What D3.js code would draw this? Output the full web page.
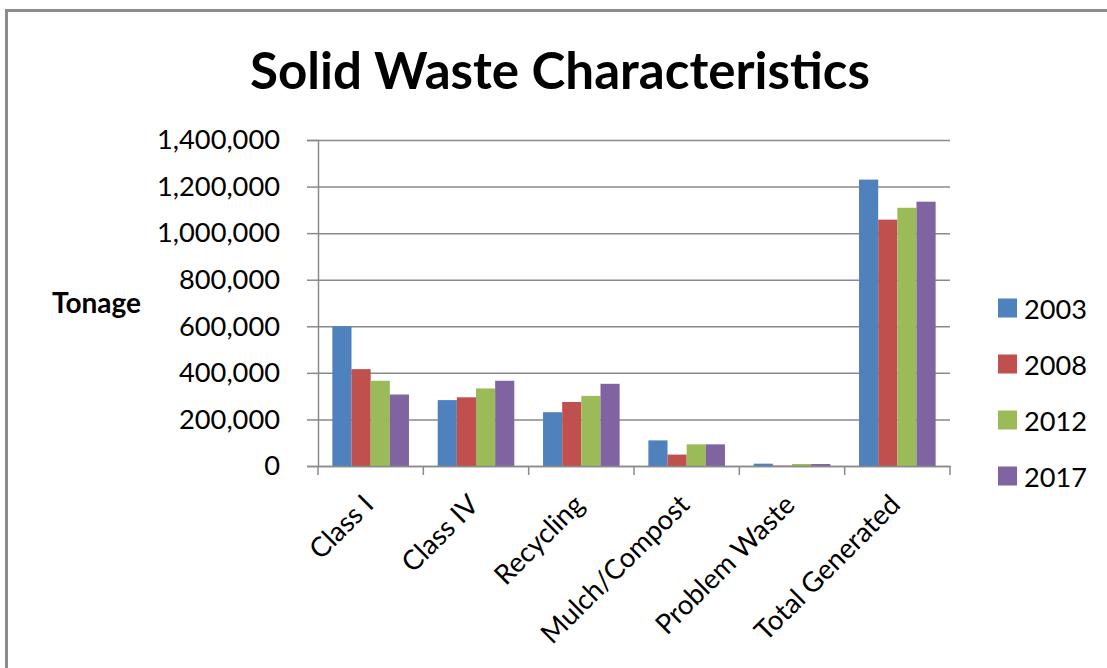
<!DOCTYPE html>
<html>
<head>
<meta charset="utf-8">
<script src="https://cdn.jsdelivr.net/npm/d3@7"></script>
<style>
  html, body { margin: 0; padding: 0; background: #fff; }
  svg { display: block; }
  text { font-family: Lato, "Open Sans", sans-serif; fill: #000; }
</style>
</head>
<body>
<svg id="chart" width="1107" height="668"></svg>
<script>
// ---- data ----
const categories = ["Class I", "Class IV", "Recycling", "Mulch/Compost", "Problem Waste", "Total Generated"];
const seriesNames = ["2003", "2008", "2012", "2017"];
const values2003 = [600000, 283000, 231000, 110000, 10000, 1230000];
const values2008 = [416000, 295000, 275000, 49000, 1500, 1058000];
const values2012 = [366000, 333000, 301000, 93000, 8500, 1109000];
const values2017 = [307000, 366000, 353000, 93000, 8500, 1135000];
const yTickValues = [0, 200000, 400000, 600000, 800000, 1000000, 1200000, 1400000];
const seriesColors = ["#4F81BD", "#C0504D", "#9BBB59", "#8064A2"];
const titleText = "Solid Waste Characteristics";
const yAxisTitle = "Tonage";

const seriesValues = [values2003, values2008, values2012, values2017];
const rows = categories.map((c, i) => ({
  category: c,
  values: seriesNames.map((s, j) => ({ series: s, value: seriesValues[j][i] }))
}));

const svg = d3.select("#chart");
const W = 1107, H = 668;
const plot = { left: 318, right: 950, top: 140, bottom: 466 };
const gridColor = "#8a8a8a";

// frame (top and left edges visible)
svg.append("line").attr("x1", 6.5).attr("x2", W).attr("y1", 10.5).attr("y2", 10.5)
  .attr("stroke", "#8c8c8c").attr("stroke-width", 3);
svg.append("line").attr("x1", 6.5).attr("x2", 6.5).attr("y1", 9).attr("y2", H)
  .attr("stroke", "#8c8c8c").attr("stroke-width", 3);

function fitText(sel, targetWidth) {
  sel.style("font-size", "100px");
  const len = sel.node().getComputedTextLength();
  sel.style("font-size", (100 * targetWidth / len) + "px");
}

// scales
const x = d3.scaleBand().domain(categories).range([plot.left, plot.right]).paddingInner(0).paddingOuter(0);
const barW = x.bandwidth() / 5.5;
const xs = d3.scaleBand().domain(seriesNames).range([0.75 * barW, 0.75 * barW + 4 * barW]).padding(0);
const y = d3.scaleLinear().domain([0, 1400000]).range([plot.bottom, plot.top]);

// gridlines
svg.append("g")
  .attr("transform", `translate(${plot.left},0)`)
  .call(d3.axisLeft(y).tickValues(yTickValues).tickSize(-(plot.right - plot.left)).tickFormat(""))
  .call(g => g.select(".domain").remove())
  .call(g => g.selectAll("line").attr("stroke", gridColor).attr("stroke-width", 1.5));

// bars
const groups = svg.append("g").selectAll("g").data(rows).join("g")
  .attr("transform", d => `translate(${x(d.category)},0)`);
groups.selectAll("rect").data(d => d.values).join("rect")
  .attr("x", d => xs(d.series))
  .attr("width", xs.bandwidth())
  .attr("y", d => y(d.value))
  .attr("height", d => y(0) - y(d.value))
  .attr("fill", (d, i) => seriesColors[i]);

// y axis
const yAxisG = svg.append("g")
  .attr("transform", `translate(${plot.left},0)`)
  .call(d3.axisLeft(y).tickValues(yTickValues).tickSize(11).tickPadding(27).tickFormat(d3.format(",")));
yAxisG.select(".domain").attr("stroke", gridColor).attr("stroke-width", 1.5);
yAxisG.selectAll(".tick line").attr("stroke", gridColor).attr("stroke-width", 1.5);
yAxisG.selectAll("text").style("font-family", "Lato").attr("fill", "#000");
{
  const t = yAxisG.selectAll(".tick text").filter(d => d === 1400000);
  t.style("font-size", "100px");
  const len = t.node().getComputedTextLength();
  yAxisG.selectAll(".tick text").style("font-size", (100 * 123 / len) + "px");
}

// x axis line
const xAxisG = svg.append("g")
  .attr("transform", `translate(0,${plot.bottom})`)
  .call(d3.axisBottom(x).tickSize(0).tickFormat(""));
xAxisG.select(".domain").attr("stroke", gridColor).attr("stroke-width", 1.5);
// boundary tick marks
const boundaries = categories.map(c => x(c)).concat([x.range()[1]]);
svg.append("g").selectAll("line").data(boundaries).join("line")
  .attr("x1", d => d).attr("x2", d => d)
  .attr("y1", plot.bottom).attr("y2", plot.bottom + 9)
  .attr("stroke", gridColor).attr("stroke-width", 1.5);

// x labels rotated
const xl = svg.append("g").selectAll("text").data(categories).join("text")
  .attr("text-anchor", "end")
  .attr("dominant-baseline", "central")
  .attr("transform", d => `translate(${x(d) + x.bandwidth() / 2 - 3},${plot.bottom + 33}) rotate(-45)`)
  .text(d => d);
{
  const t = xl.filter(d => d === "Total Generated");
  t.style("font-size", "100px");
  const len = t.node().getComputedTextLength();
  xl.style("font-size", (100 * 192 / len) + "px");
}

// title
const title = svg.append("text").attr("x", 560).attr("y", 89)
  .attr("text-anchor", "middle").style("font-weight", "bold").text(titleText);
fitText(title, 620);

// y axis title
const yt = svg.append("text").attr("x", 52).attr("y", 313)
  .attr("text-anchor", "start").style("font-weight", "bold").text(yAxisTitle);
fitText(yt, 89);

// legend
const legendY = d3.scalePoint().domain(seriesNames).range([308, 476]);
const lg = svg.append("g").selectAll("g").data(seriesNames).join("g")
  .attr("transform", d => `translate(998,${legendY(d)})`);
lg.append("rect").attr("x", 0).attr("y", -9.5).attr("width", 19).attr("height", 19)
  .attr("fill", (d, i) => seriesColors[i]);
const lt = lg.append("text").attr("x", 26).attr("y", 0).attr("dominant-baseline", "central").text(d => d);
{
  const n = lt.filter(d => d === "2003");
  n.style("font-size", "100px");
  const len = n.node().getComputedTextLength();
  lt.style("font-size", (100 * 63 / len) + "px");
}
</script>
</body>
</html>
